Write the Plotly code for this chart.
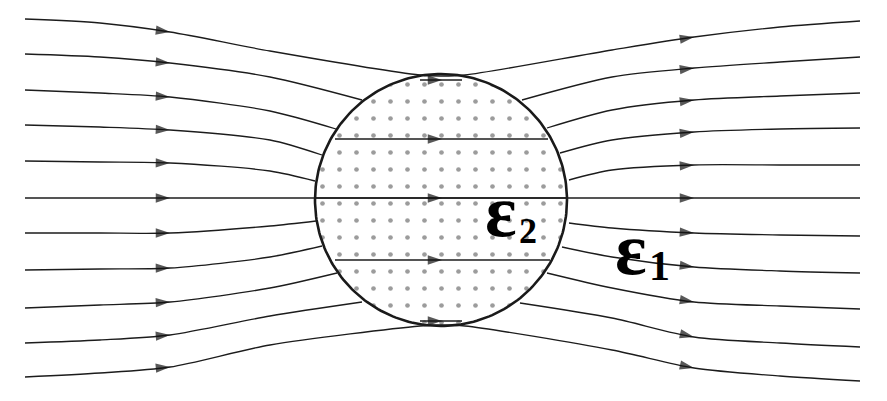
import numpy as np
import plotly.graph_objects as go

# field lines (pixel units, y grows downward)
LEFT_X = [25, 100, 170, 270]
LEFT_Y = [
    [19, 23, 32, 51],
    [54, 57, 63, 77],
    [90, 93, 97, 111],
    [125, 127, 130, 140],
    [161, 162, 163, 171],
    [198, 198, 198, 198],
    [233, 233, 233, 226],
    [270, 269, 268, 257],
    [308, 305, 302, 288],
    [343, 340, 335, 316],
    [377, 373, 367, 345],
]
ENTRY_X = [420, 362, 336, 322, 315, 442, 316, 322, 337, 362, 420]
ENTRY_Y = [75, 100, 129, 155, 181, 198, 221, 246, 273, 302, 326]
EXIT_X = [465, 522, 547, 560, 569, 442, 569, 562, 547, 520, 465]
EXIT_Y = [75, 100, 128, 153, 180, 198, 223, 247, 273, 303, 326]
RIGHT_X = [612, 694, 780, 860]
RIGHT_Y = [
    [50, 37, 27, 21],
    [77, 68, 62, 57],
    [110, 100, 96, 93],
    [140, 132, 129, 128],
    [170, 165, 165, 165],
    [198, 198, 198, 198],
    [228, 233, 235, 236],
    [257, 267, 271, 273],
    [288, 302, 306, 309],
    [318, 337, 343, 347],
    [350, 368, 376, 381],
]

# straight lines inside the sphere
INNER_Y = [80, 139, 198, 260, 321]
INNER_X0 = [420, 335, 315, 335, 420]
INNER_X1 = [462, 548, 567, 550, 462]
INNER_ARROW_X = 442

# sphere
CX, CY, R = 441, 200, 126

LINE_COLOR = "#1c1c1c"
ARROW_SIZE = 15
PAGE_OFFSET = 8  # browser body margin

fig = go.Figure()

theta = np.linspace(0, 2 * np.pi, 241)
fig.add_trace(
    go.Scatter(
        x=CX + R * np.cos(theta),
        y=CY + R * np.sin(theta),
        mode="lines",
        fill="toself",
        fillcolor="white",
        fillpattern=dict(shape=".", size=17, solidity=0.06, fgcolor="#3a3a3a", bgcolor="white"),
        line=dict(color="#1a1a1a", width=2.6),
        hoverinfo="skip",
        showlegend=False,
    )
)

for i in range(len(LEFT_Y)):
    # left half ends on the sphere, right half starts from it
    xl = LEFT_X + [ENTRY_X[i]]
    yl = LEFT_Y[i] + [ENTRY_Y[i]]
    xr = [EXIT_X[i]] + RIGHT_X
    yr = [EXIT_Y[i]] + RIGHT_Y[i]
    if i == 5:
        segs = [(xl + xr, yl + yr)]
    elif i in (0, 10):
        # tangent lines run over the top / bottom of the sphere
        dy = 1 if i == 0 else -1
        segs = [(xl + [CX] + xr, yl + [ENTRY_Y[i] + dy] + yr)]
    else:
        segs = [(xl, yl), (xr, yr)]
    for xs, ys in segs:
        sizes = [ARROW_SIZE if x in (170, 694) else 0 for x in xs]
        fig.add_trace(
            go.Scatter(
                x=xs,
                y=ys,
                mode="lines+markers",
                line=dict(color=LINE_COLOR, width=1.3, shape="spline", smoothing=0.8),
                marker=dict(symbol="arrow", size=sizes, angleref="previous", color="#111111", line_width=0),
                hoverinfo="skip",
                showlegend=False,
            )
        )

for y, x0, x1 in zip(INNER_Y, INNER_X0, INNER_X1):
    fig.add_trace(
        go.Scatter(
            x=[x0, INNER_ARROW_X, x1],
            y=[y, y, y],
            mode="lines+markers",
            line=dict(color=LINE_COLOR, width=1.4),
            marker=dict(symbol="arrow", size=[0, ARROW_SIZE, 0], angleref="previous", color="#111111", line_width=0),
            hoverinfo="skip",
            showlegend=False,
        )
    )

serif = "Liberation Serif"
fig.add_annotation(x=519, y=211, text="<b>ε</b>", showarrow=False, xanchor="right",
                   font=dict(family=serif, color="black", size=74))
fig.add_annotation(x=517, y=231, text="<b>2</b>", showarrow=False, xanchor="left",
                   font=dict(family=serif, color="black", size=36))
fig.add_annotation(x=649, y=249, text="<b>ε</b>", showarrow=False, xanchor="right",
                   font=dict(family=serif, color="black", size=74))
fig.add_annotation(x=647, y=266, text="<b>1</b>", showarrow=False, xanchor="left",
                   font=dict(family=serif, color="black", size=42))

fig.update_layout(
    width=887 - PAGE_OFFSET,
    height=401 - PAGE_OFFSET,
    autosize=False,
    margin=dict(l=0, r=0, t=0, b=0),
    paper_bgcolor="white",
    plot_bgcolor="white",
    xaxis=dict(range=[PAGE_OFFSET, 887], visible=False, fixedrange=True),
    yaxis=dict(range=[401, PAGE_OFFSET], visible=False, fixedrange=True),
)

fig.write_html("out.html")
